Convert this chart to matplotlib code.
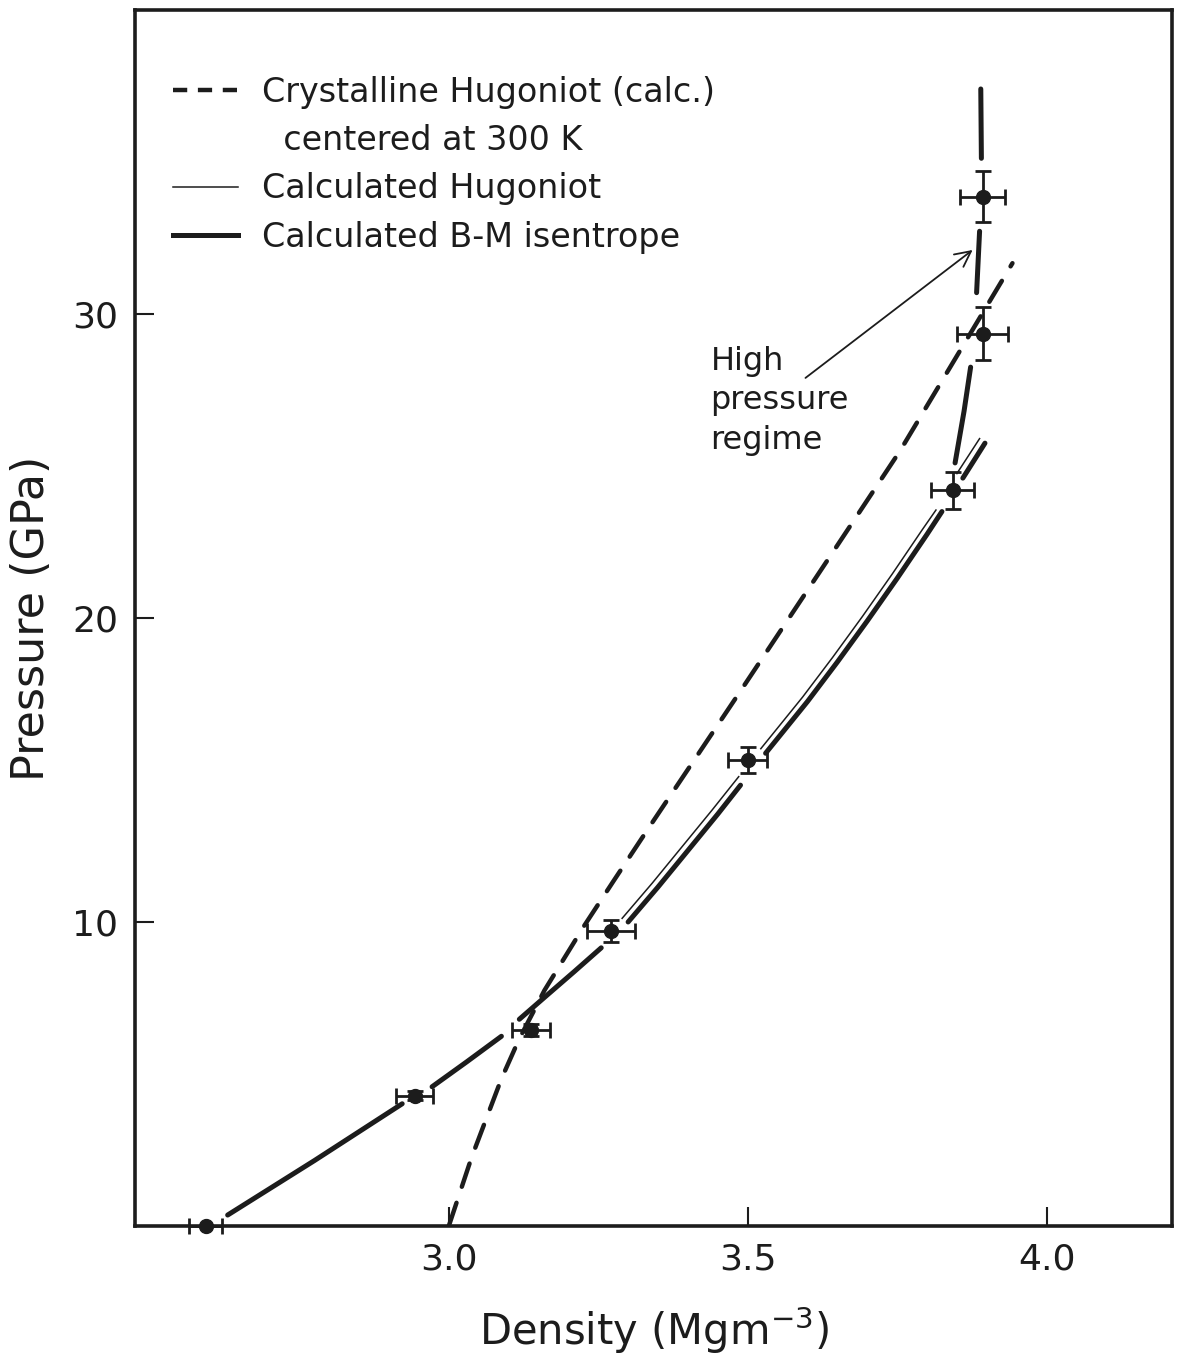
import numpy as np
import matplotlib
matplotlib.use("Agg")
import matplotlib.pyplot as plt
from matplotlib.lines import Line2D

plt.rcParams['font.family'] = ['DejaVu Sans']
ink = '#1c1c1c'
nan = np.nan

# measured points (density, pressure) with error bars
rho = [2.593, 2.943, 3.138, 3.272, 3.500, 3.843, 3.893, 3.893]
pres = [0.0, 4.28, 6.44, 9.70, 15.33, 24.20, 29.35, 33.86]
rho_err = [0.027, 0.031, 0.032, 0.040, 0.033, 0.036, 0.042, 0.037]
pres_err = [0.0, 0.15, 0.20, 0.36, 0.42, 0.60, 0.87, 0.83]

# crystalline Hugoniot (calc.), centered at 300 K
cryst_x = [3.000, 3.038, 3.088, 3.117, 3.160, 3.227, 3.277, 3.338, 3.483, 3.642, 3.755, 3.943]
cryst_y = [0.0, 2.25, 4.84, 6.12, 7.75, 9.89, 11.39, 13.20, 17.45, 22.15, 25.50, 31.67]

# calculated Hugoniot (thin), nan = break in the drawn line
hug_x = [3.290, 3.340, 3.390, 3.440, 3.485, nan, 3.522, 3.592, 3.642, 3.692, 3.742, 3.792, 3.815,
         nan, 3.850, 3.888]
hug_y = [10.12, 11.27, 12.47, 13.67, 14.78, nan, 15.70, 17.40, 18.70, 20.05, 21.45, 22.90, 23.55,
         nan, 24.75, 25.90]

# calculated B-M isentrope (thick)
ise_x = [2.630, 2.775, 2.922, nan, 2.972, 3.030, 3.088, nan, 3.118, 3.163, 3.210, 3.255, nan,
         3.300, 3.350, 3.400, 3.450, 3.488, nan, 3.530, 3.600, 3.650, 3.700, 3.750, 3.800, 3.825,
         nan, 3.860, 3.897]
ise_y = [0.36, 2.15, 4.02, nan, 4.58, 5.40, 6.24, nan, 6.80, 7.57, 8.37, 9.15, nan,
         10.00, 11.15, 12.35, 13.55, 14.50, nan, 15.55, 17.25, 18.55, 19.90, 21.30, 22.75, 23.50,
         nan, 24.60, 25.75]

# high pressure branch of the isentrope
hp_x = [3.847, 3.862, 3.873, nan, 3.883, 3.888, nan, 3.891, 3.890]
hp_y = [25.10, 26.80, 28.25, nan, 30.70, 32.72, nan, 35.12, 37.40]

fig = plt.figure(figsize=(11.77, 13.61), dpi=100)
ax = fig.add_axes([0.1147, 0.0992, 0.8811, 0.8935])

ax.plot(cryst_x, cryst_y, color=ink, lw=3.2, dashes=(5.5, 3.8), dash_capstyle='round')
ax.plot(hug_x, hug_y, color=ink, lw=1.1)
ax.plot(ise_x, ise_y, color=ink, lw=3.6, solid_capstyle='round')
ax.plot(hp_x, hp_y, color=ink, lw=3.6, solid_capstyle='round')

ax.errorbar(rho, pres, xerr=rho_err, yerr=pres_err, fmt='o', color=ink, ms=10,
            elinewidth=2, capsize=6, capthick=2, clip_on=False, zorder=5)

ax.annotate('', xy=(3.880, 32.16), xytext=(3.593, 27.84),
            arrowprops=dict(arrowstyle='->', color=ink, lw=1.3, mutation_scale=28))
ax.text(3.438, 28.95, 'High\npressure\nregime', fontsize=23, color=ink,
        ha='left', va='top', linespacing=1.35)

ax.set_xlim(2.475, 4.21)
ax.set_ylim(0, 40)
ax.set_xticks([3.0, 3.5, 4.0])
ax.set_xticklabels(['3.0', '3.5', '4.0'])
ax.set_yticks([10, 20, 30])
ax.tick_params(axis='both', direction='in', length=14, width=1.5, colors=ink, labelsize=26)
ax.tick_params(axis='x', pad=12)
ax.tick_params(axis='y', pad=12)
for s in ax.spines.values():
    s.set_linewidth(2.6)
    s.set_color(ink)

ax.set_xlabel('Density (Mgm$^{-3}$)', fontsize=30, color=ink, labelpad=20)
ax.set_ylabel('Pressure (GPa)', fontsize=32, color=ink, labelpad=14)

handles = [Line2D([], [], color=ink, lw=3.2, dashes=(3.2, 2.4)),
           Line2D([], [], color='none'),
           Line2D([], [], color=ink, lw=1.1),
           Line2D([], [], color=ink, lw=3.6)]
labels = ['Crystalline Hugoniot (calc.)', '  centered at 300 K',
          'Calculated Hugoniot', 'Calculated B-M isentrope']
ax.legend(handles, labels, loc='upper left', bbox_to_anchor=(0.024, 0.957), frameon=False,
          fontsize=24, handlelength=1.95, handletextpad=0.7, labelspacing=0.46,
          borderaxespad=0, labelcolor=ink)

fig.savefig('out.png', dpi=100)
